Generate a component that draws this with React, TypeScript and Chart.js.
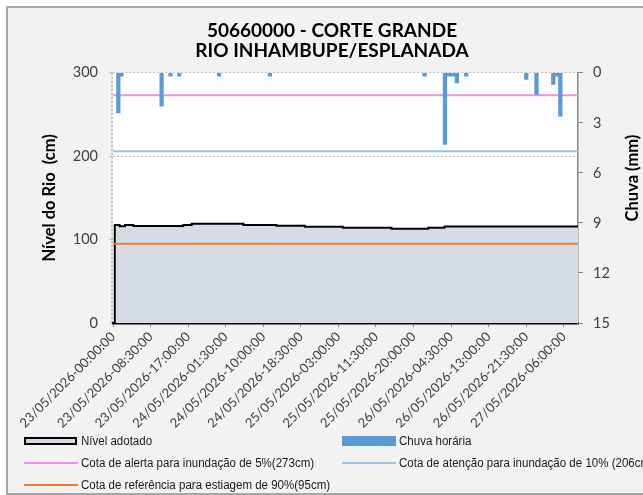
import React, { useEffect, useRef } from "react";
import { Chart, registerables } from "chart.js";

Chart.register(...registerables);

// ---- data ----
const titleLines = ["50660000 - CORTE GRANDE", "RIO INHAMBUPE/ESPLANADA"];
const leftAxisTitle = "Nível do Rio  (cm)";
const rightAxisTitle = "Chuva (mm)";

// x tick positions (hours since 23/05/2026 00:00) and their labels
const tickHours = [0, 8.5, 17, 25.5, 34, 42.5, 51, 59.5, 68, 76.5, 85, 93.5, 102];
const tickLabels = [
  "23/05/2026-00:00:00",
  "23/05/2026-08:30:00",
  "23/05/2026-17:00:00",
  "24/05/2026-01:30:00",
  "24/05/2026-10:00:00",
  "24/05/2026-18:30:00",
  "25/05/2026-03:00:00",
  "25/05/2026-11:30:00",
  "25/05/2026-20:00:00",
  "26/05/2026-04:30:00",
  "26/05/2026-13:00:00",
  "26/05/2026-21:30:00",
  "27/05/2026-06:00:00",
];
const xEndHour = 105.2;

// river level (cm), stepped, change points
const levelHours = [0.4, 0.4, 1.5, 2.7, 4.6, 15.9, 17.8, 29.5, 37, 43.4, 52, 63, 71.3, 75, 101, 105.2];
const levelValues = [0, 116.5, 117.5, 116, 117.5, 116.3, 117.5, 119, 117.5, 116.5, 115.3, 114.2, 113, 114.2, 115.6, 115.6];

// hourly rain (mm)
const rainHours = [1.2, 1.9, 11, 13, 15, 24, 35.5, 70.5, 75.1, 76.0, 76.9, 77.8, 79.9, 93.5, 95.8, 99.6, 100.4, 101.2];
const rainValues = [2.4, 0.2, 2.0, 0.2, 0.2, 0.2, 0.2, 0.2, 4.3, 0.2, 0.2, 0.6, 0.2, 0.4, 1.3, 0.7, 0.2, 2.6];

// reference levels (cm)
const alertLevel = 273;
const attentionLevel = 206;
const droughtLevel = 95;

const legendItems = [
  { label: "Nível adotado", kind: "area", color: "#d6dce5" },
  { label: "Chuva horária", kind: "bar", color: "#5b9bd5" },
  { label: "Cota de alerta para inundação de 5%(273cm)", kind: "line", color: "#ee8ee8" },
  { label: "Cota de atenção para inundação de 10% (206cm)", kind: "line", color: "#9dc3e6" },
  { label: "Cota de referência para estiagem de 90%(95cm)", kind: "line", color: "#ed7d31" },
];

const FONT = "Lato, 'Open Sans', sans-serif";
const LEGEND_FONT = "'Liberation Sans Narrow', 'Arial Narrow', 'Liberation Sans', sans-serif";

const bgPlugin = {
  id: "plotBg",
  beforeDraw(chart: any) {
    const { ctx, chartArea } = chart;
    ctx.save();
    ctx.fillStyle = "#ffffff";
    ctx.fillRect(chartArea.left, chartArea.top, chartArea.right - chartArea.left, chartArea.bottom - chartArea.top);
    ctx.strokeStyle = "#b0b0b0";
    ctx.lineWidth = 1.5;
    ctx.setLineDash([2, 2]);
    ctx.beginPath();
    ctx.moveTo(chartArea.left - 1, chartArea.top);
    ctx.lineTo(chartArea.left - 1, chartArea.bottom);
    ctx.stroke();
    ctx.restore();
  },
  afterDraw(chart: any) {
    const { ctx } = chart;
    ctx.save();
    ctx.translate(633, 178);
    ctx.rotate(-Math.PI / 2);
    ctx.font = "bold 16.5px " + FONT;
    ctx.fillStyle = "#000000";
    ctx.textAlign = "center";
    ctx.textBaseline = "middle";
    ctx.fillText(rightAxisTitle, 0, 0);
    ctx.restore();
  },
};

export default function App() {
  const canvasRef = useRef<HTMLCanvasElement | null>(null);

  useEffect(() => {
    document.body.style.margin = "0";
    const canvas = canvasRef.current;
    if (!canvas) return;

    const level = levelHours.map((h, i) => ({ x: h, y: levelValues[i] }));
    const rain = rainHours.map((h, i) => ({ x: h, y: rainValues[i] }));
    const hline = (v: number) => [
      { x: 0, y: v },
      { x: xEndHour, y: v },
    ];

    const chart = new Chart(canvas, {
      type: "bar",
      data: {
        datasets: [
          {
            type: "bar",
            label: "Chuva horária",
            data: rain,
            yAxisID: "y1",
            backgroundColor: "#5b9bd5",
            barThickness: 3.6,
            order: 1,
          } as any,
          {
            type: "line",
            label: "Cota de alerta",
            data: hline(alertLevel),
            yAxisID: "y",
            borderColor: "#ee8ee8",
            borderWidth: 2,
            pointRadius: 0,
            fill: false,
            order: 2,
          },
          {
            type: "line",
            label: "Cota de atenção",
            data: hline(attentionLevel),
            yAxisID: "y",
            borderColor: "#9dc3e6",
            borderWidth: 2,
            pointRadius: 0,
            fill: false,
            order: 2,
          },
          {
            type: "line",
            label: "Cota de referência",
            data: hline(droughtLevel),
            yAxisID: "y",
            borderColor: "#ed7d31",
            borderWidth: 2,
            pointRadius: 0,
            fill: false,
            order: 2,
          },
          {
            type: "line",
            label: "Nível adotado",
            data: level,
            yAxisID: "y",
            borderColor: "#000000",
            borderWidth: 2,
            backgroundColor: "#d6dce5",
            pointRadius: 0,
            stepped: "after",
            fill: "origin",
            order: 5,
          } as any,
        ],
      },
      options: {
        responsive: false,
        animation: false,
        devicePixelRatio: 1,
        layout: { padding: 0 },
        plugins: {
          legend: { display: false },
          tooltip: { enabled: false },
          title: {
            display: true,
            text: titleLines,
            color: "#000000",
            font: { family: FONT, size: 19, weight: "bold", lineHeight: 1.1 },
            padding: { top: 20, bottom: 11 },
          },
        },
        scales: {
          x: {
            type: "linear",
            offset: false,
            min: 0,
            max: xEndHour,
            afterBuildTicks: (scale: any) => {
              scale.ticks = tickHours.map((v) => ({ value: v }));
            },
            afterFit: (scale: any) => {
              scale.height = 172;
            },
            ticks: {
              autoSkip: false,
              minRotation: 45,
              maxRotation: 45,
              color: "#404040",
              font: { family: FONT, size: 13 },
              padding: 2,
              callback: (_v: any, i: number) => tickLabels[i],
            },
            grid: { offset: false, drawOnChartArea: false, drawTicks: true, tickLength: 4, color: "#888888" },
            border: { color: "#000000", width: 2.5 },
          },
          y: {
            position: "left",
            min: 0,
            max: 300,
            afterFit: (scale: any) => {
              scale.width = 113;
            },
            ticks: {
              stepSize: 100,
              color: "#404040",
              font: { family: FONT, size: 14.5 },
              padding: 11,
            },
            grid: { color: "#c4c4c4", lineWidth: 1, tickLength: 4 },
            border: { display: false, dash: [2, 2] },
            title: {
              display: true,
              text: leftAxisTitle,
              color: "#000000",
              font: { family: FONT, size: 16.5, weight: "bold", lineHeight: 1.2 },
              padding: { top: 40, bottom: 0 },
            },
          },
          y1: {
            position: "right",
            min: 0,
            max: 15,
            reverse: true,
            afterFit: (scale: any) => {
              scale.width = 86;
            },
            ticks: {
              stepSize: 3,
              color: "#404040",
              font: { family: FONT, size: 14.5 },
              padding: 10,
            },
            grid: { drawOnChartArea: false, color: "#868686", tickLength: 5 },
            border: { color: "#868686", width: 1.5 },
          },
        },
      },
      plugins: [bgPlugin],
    } as any);

    return () => chart.destroy();
  }, []);

  const rows = [
    [legendItems[0], legendItems[1]],
    [legendItems[2], legendItems[3]],
    [legendItems[4]],
  ];
  const rowY = [440.5, 462.5, 485];
  const colX = [24, 342];

  return (
    <div style={{ position: "relative", width: 643, height: 495, overflow: "hidden", background: "#ffffff" }}>
      <div
        style={{
          position: "absolute",
          left: 6,
          top: 6,
          width: 720,
          height: 489,
          boxSizing: "border-box",
          border: "2px solid #a6a6a6",
          background: "#f2f2f2",
        }}
      />
      <canvas ref={canvasRef} width={664} height={495} style={{ position: "absolute", left: 0, top: 0 }} />
      {rows.map((row, ri) =>
        row.map((item, ci) => {
          const cy = rowY[ri];
          const x = colX[ci];
          let sym: React.ReactNode;
          if (item.kind === "area") {
            sym = (
              <div
                style={{
                  position: "absolute",
                  left: x,
                  top: cy - 4,
                  width: 53,
                  height: 8,
                  boxSizing: "border-box",
                  border: "2px solid #000",
                  background: item.color,
                }}
              />
            );
          } else if (item.kind === "bar") {
            sym = (
              <div
                style={{ position: "absolute", left: x, top: cy - 5, width: 54, height: 10, background: item.color }}
              />
            );
          } else {
            sym = (
              <div
                style={{ position: "absolute", left: x, top: cy - 1, width: 54, height: 2, background: item.color }}
              />
            );
          }
          return (
            <React.Fragment key={ri + "-" + ci}>
              {sym}
              <div
                style={{
                  position: "absolute",
                  left: x + 57,
                  top: cy - 8,
                  height: 16,
                  lineHeight: "16px",
                  fontFamily: LEGEND_FONT,
                  fontSize: 12,
                  color: "#1a1a1a",
                  whiteSpace: "nowrap",
                  transform: "scaleX(0.96)",
                  transformOrigin: "left center",
                }}
              >
                {item.label}
              </div>
            </React.Fragment>
          );
        })
      )}
    </div>
  );
}
